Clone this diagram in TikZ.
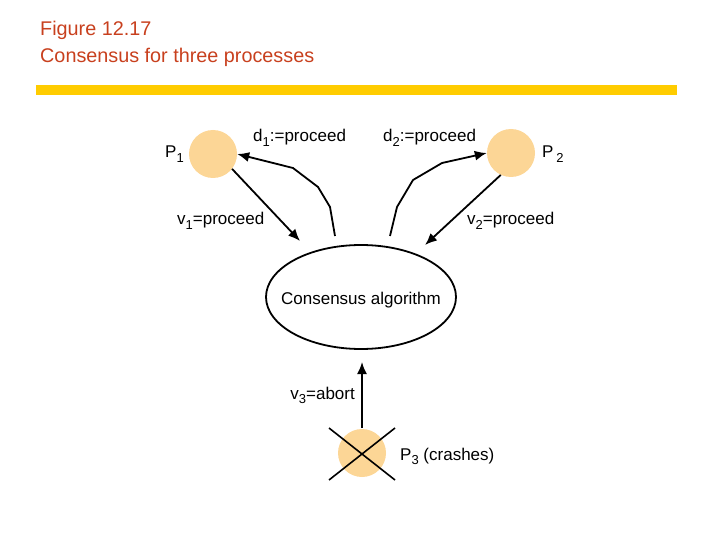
\documentclass[tikz,border=0pt]{standalone}
\usepackage{fontspec}
\setmainfont{Liberation Sans}
\usepackage{tikz}
\usetikzlibrary{arrows.meta,shapes.geometric}

\definecolor{titlered}{RGB}{200,64,30}
\definecolor{baryellow}{RGB}{255,204,0}
\definecolor{procfill}{RGB}{252,214,150}
\newcommand{\idx}[1]{\raisebox{-0.45ex}{\fontsize{13}{13}\selectfont #1}}

\begin{document}
\begin{tikzpicture}[x=1pt,y=-1pt,
    proc/.style={circle,fill=procfill,minimum size=48pt,inner sep=0pt},
    lbl/.style={font=\fontsize{17}{17}\selectfont,inner sep=0pt},
    msg/.style={line width=1.8pt,-{Latex[length=12pt,width=10pt]}}]
            \useasboundingbox (0,0) rectangle (720,540);

            % heading
            \node[anchor=base west,text=titlered,font=\fontsize{19.8}{19.8}\selectfont,inner sep=0pt] (fig) at (40,36) {Figure 12.17};
            \node[anchor=base west,text=titlered,font=\fontsize{19.8}{19.8}\selectfont,inner sep=0pt] (cap) at (40,63) {Consensus for three processes};
            \fill[baryellow] (36,85) rectangle (677,95);

            % processes and algorithm
            \node[proc] (p1) at (213,154) {};
            \node[proc] (p2) at (511,153) {};
            \node[proc] (p3) at (362,453) {};
            \node[ellipse,draw,line width=1.8pt,minimum width=190pt,minimum height=104pt] (alg) at (361,297) {};
            \node[lbl] (algtxt) at (361,300) {Consensus algorithm};

            \node[lbl,anchor=base west] (p1lbl) at (165,158) {P\idx{1}};
            \node[lbl,anchor=base west] (p2lbl) at (542,158) {P\,\idx{2}};
            \node[lbl,anchor=base west] (p3lbl) at (400,460) {P\idx{3} (crashes)};

            % crash cross
            \coordinate (x1) at (329,428);
            \coordinate (x2) at (395,480);
            \coordinate (x3) at (395,428);
            \coordinate (x4) at (329,480);
            \draw[line width=1.6pt] (x1) -- (x2);
            \draw[line width=1.6pt] (x3) -- (x4);

            % end points
            \coordinate (v1e) at (300,241);
            \coordinate (v2e) at (425,245);
            \coordinate (v3e) at (362,362);
            \coordinate (d1s) at (335,236);
            \coordinate (d2s) at (390,236);

            % messages
            \draw[msg] (p1.-38) -- (v1e);
            \draw[msg] (p2.-115) -- (v2e);
            \draw[msg] (p3.north |- x1) -- (v3e);
            \draw[msg] (d1s) -- (330,207) -- (318,187) -- (293,168) -- (p1.east);
            \draw[msg] (d2s) -- (397,207) -- (413,180) -- (442,163) -- (p2.west);

            \node[lbl,anchor=base west] (v1lbl) at (177,225) {v\idx{1}=proceed};
            \node[lbl,anchor=base west] (v2lbl) at (467,225) {v\idx{2}=proceed};
            \node[lbl,anchor=base east] (v3lbl) at (355,399) {v\idx{3}=abort};
            \node[lbl,anchor=base west] (d1lbl) at (253,142) {d\idx{1}:=proceed};
            \node[lbl,anchor=base west] (d2lbl) at (383,142) {d\idx{2}:=proceed};
        \end{tikzpicture}
\end{document}
